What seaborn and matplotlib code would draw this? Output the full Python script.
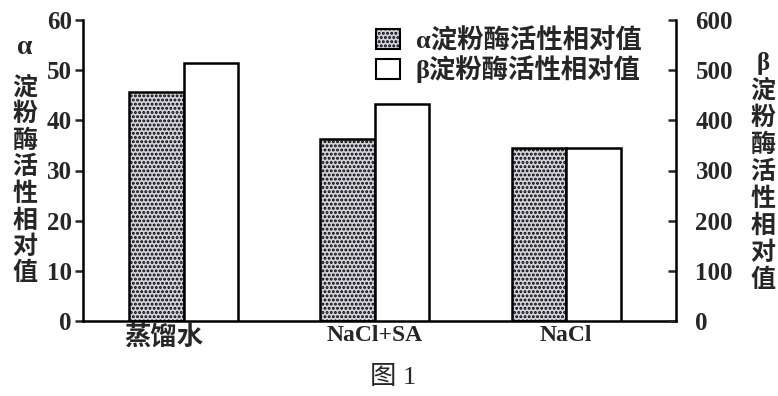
import numpy as np
import pandas as pd
import matplotlib
matplotlib.use('Agg')
import matplotlib.pyplot as plt
import matplotlib.transforms as mtransforms
import seaborn as sns
from matplotlib.patches import Patch

groups = ['蒸馏水', 'NaCl+SA', 'NaCl']
alpha_values = [45.7, 36.2, 34.4]
beta_values = [514, 432, 344]
series = ['α淀粉酶活性相对值', 'β淀粉酶活性相对值']
left_ticks = [0, 10, 20, 30, 40, 50, 60]
right_ticks = [0, 100, 200, 300, 400, 500, 600]

sns.set_style('white')
plt.rcParams['font.family'] = ['Liberation Serif', 'Noto Sans CJK SC']
plt.rcParams['hatch.linewidth'] = 1.4
plt.rcParams['hatch.color'] = '#80849a'

df_a = pd.DataFrame({'组别': groups, '值': alpha_values, '酶': series[0]})
df_b = pd.DataFrame({'组别': groups, '值': beta_values, '酶': series[1]})
colors = {series[0]: '#d0d2dc', series[1]: 'white'}

fig = plt.figure(figsize=(7.78, 3.96), dpi=100)
ax = fig.add_axes([83 / 778, 1 - 321 / 396, (676 - 83) / 778, 301 / 396])
ax2 = ax.twinx()

sns.barplot(data=df_a, x='组别', y='值', hue='酶', hue_order=series, order=groups,
            dodge=True, width=0.57, palette=colors, edgecolor='black', linewidth=1.8,
            legend=False, ax=ax)
sns.barplot(data=df_b, x='组别', y='值', hue='酶', hue_order=series, order=groups,
            dodge=True, width=0.57, palette=colors, edgecolor='black', linewidth=1.8,
            legend=False, ax=ax2)
for p in ax.patches:
    p.set_hatch('....')

ax.set_xlim(-0.526, 2.574)
ax.set_ylim(0, 60)
ax2.set_ylim(0, 600)
ax.set_yticks(left_ticks)
ax2.set_yticks(right_ticks)
ax.set_xlabel('')
ax.set_ylabel('')
ax2.set_ylabel('')

for s in ['top', 'right']:
    ax.spines[s].set_visible(False)
for s in ['top', 'left', 'bottom']:
    ax2.spines[s].set_visible(False)
for sp in [ax.spines['left'], ax.spines['bottom'], ax2.spines['right']]:
    sp.set_color('black')
    sp.set_linewidth(1.8)

ax.tick_params(axis='y', direction='out', length=6, width=1.8, labelsize=18, pad=2)
ax.tick_params(axis='x', length=0, labelsize=17, pad=3)
ax2.tick_params(axis='y', direction='in', length=6, width=1.8, labelsize=18, pad=14)
for lab in ax.get_yticklabels() + ax2.get_yticklabels() + ax.get_xticklabels():
    lab.set_fontweight('bold')
# the first group label sits a little to the left in the original
shift = mtransforms.ScaledTranslation(-20 / 100, 0, fig.dpi_scale_trans)
first = ax.get_xticklabels()[0]
first.set_transform(first.get_transform() + shift)
first.set_fontsize(19)

fig.text(25 / 778, 1 - 48 / 396, 'α', ha='center', va='center', fontsize=20, fontweight='bold')
fig.text(25 / 778, 1 - 76 / 396, '\n'.join('淀粉酶活性相对值'), ha='center', va='top',
         fontsize=18, linespacing=1.17, fontweight='bold')
fig.text(763 / 778, 1 - 52 / 396, '\n'.join('β淀粉酶活性相对值'), ha='center', va='top',
         fontsize=18, linespacing=1.2, fontweight='bold')

handles = [Patch(facecolor=colors[series[0]], edgecolor='black', hatch='....', linewidth=1.5),
           Patch(facecolor='white', edgecolor='black', linewidth=1.5)]
fig.legend(handles, series, loc='upper left', bbox_to_anchor=(376 / 778, 1 - 28 / 396),
           frameon=False, prop={'size': 19, 'weight': 'bold'}, handlelength=0.9,
           handleheight=0.8, handletextpad=0.6, labelspacing=0.08, borderpad=0, borderaxespad=0)

fig.text(393 / 778, 1 - 378 / 396, '图 1', ha='center', va='center', fontsize=19)

fig.savefig('out.png', dpi=100)
